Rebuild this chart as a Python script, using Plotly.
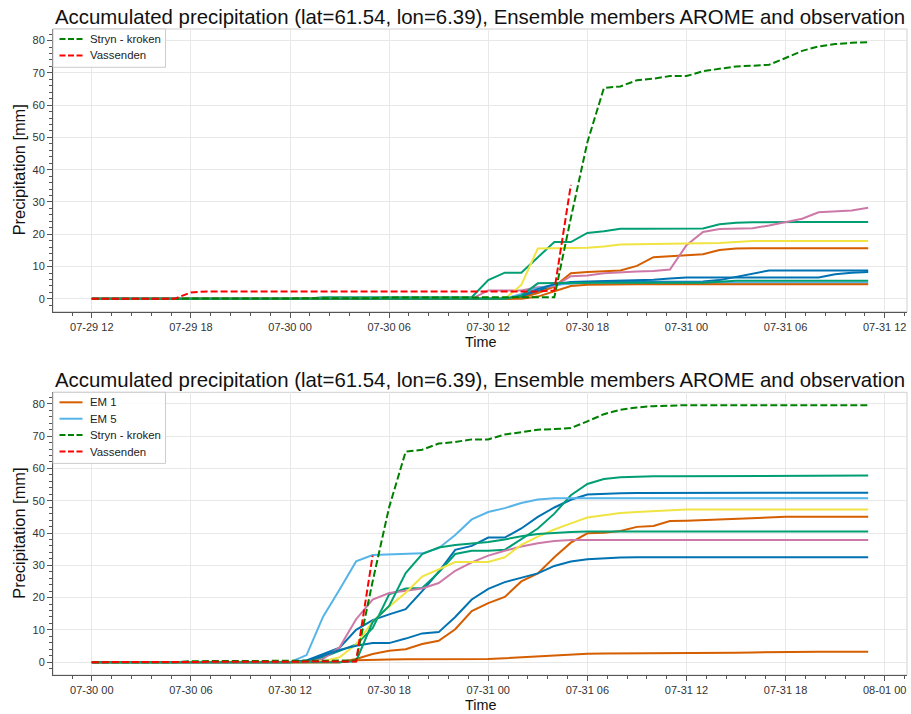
import pandas as pd
import plotly.graph_objects as go

TITLE = "Accumulated precipitation (lat=61.54, lon=6.39), Ensemble members AROME and observation"

# ---------------------------------------------------------------------------
# Valid times (hourly). Upper panel: run from 07-29 12, lower panel: 07-30 00
# ---------------------------------------------------------------------------
top_times = pd.date_range("2023-07-29 12:00", periods=48, freq="h")
bot_times = pd.date_range("2023-07-30 00:00", periods=48, freq="h")

# ----------------------------- upper panel --------------------------------
top_em0 = [0, 0, 0, 0, 0, 0, 0, 0, 0, 0, 0, 0,
           0, 0, 0, 0, 0, 0, 0, 0, 0, 0, 0, 0,
           0, 0, 0.5, 2.3, 4.3, 5.0, 5.2, 5.3, 5.3, 5.3, 5.4, 5.4,
           5.4, 5.4, 5.8, 6.8, 8.0, 8.8, 8.8, 8.8, 8.8, 8.8, 8.8, 8.8]
top_em1 = [0, 0, 0, 0, 0, 0, 0, 0, 0, 0, 0, 0,
           0, 0, 0, 0, 0, 0, 0, 0, 0, 0, 0, 0,
           0, 0, 0.3, 1.8, 3.8, 7.9, 8.3, 8.6, 8.8, 10.2, 12.9, 13.2,
           13.4, 13.8, 15.1, 15.6, 15.7, 15.7, 15.7, 15.7, 15.7, 15.7, 15.7, 15.7]
top_em2 = [0, 0, 0, 0, 0, 0, 0, 0, 0, 0, 0, 0,
           0, 0, 0.5, 0.5, 0.5, 0.5, 0.5, 0.5, 0.5, 0.5, 0.5, 0.5,
           5.8, 8.1, 8.1, 13.0, 17.6, 17.6, 20.4, 20.9, 21.7, 21.7, 21.7, 21.7,
           21.7, 21.8, 23.1, 23.6, 23.7, 23.8, 23.8, 23.8, 23.8, 23.8, 23.8, 23.8]
top_em3 = [0, 0, 0, 0, 0, 0, 0, 0, 0, 0, 0, 0,
           0, 0, 0, 0, 0, 0, 0, 0, 0, 0, 0, 0,
           2.6, 2.6, 2.6, 3.6, 3.9, 7.0, 7.2, 7.9, 8.3, 8.5, 8.6, 9.1,
           16.6, 20.7, 21.6, 21.7, 21.9, 22.7, 23.7, 24.8, 26.8, 27.1, 27.4, 28.2]
top_em4 = [0, 0, 0, 0, 0, 0, 0, 0, 0, 0, 0, 0,
           0, 0, 0, 0, 0, 0, 0, 0, 0, 0, 0, 0,
           0, 0, 4.3, 15.6, 15.7, 15.8, 15.8, 16.2, 16.8, 16.9, 17.0, 17.0,
           17.0, 17.1, 17.3, 17.6, 17.9, 17.9, 17.9, 17.9, 17.9, 17.9, 17.9, 17.9]
top_em5 = [0, 0, 0, 0, 0, 0, 0, 0, 0, 0, 0, 0,
           0, 0, 0, 0, 0, 0, 0, 0, 0, 0, 0, 0,
           0, 0, 1.5, 3.3, 4.4, 4.8, 5.0, 5.0, 5.0, 5.0, 5.0, 5.0,
           5.0, 5.0, 5.0, 5.0, 5.0, 5.0, 5.0, 5.0, 5.0, 5.0, 5.0, 5.0]
top_em6 = [0, 0, 0, 0, 0, 0, 0, 0, 0, 0, 0, 0,
           0, 0, 0, 0, 0, 0, 0, 0, 0, 0, 0, 0,
           0, 0, 0.8, 3.0, 4.5, 5.2, 5.4, 5.5, 5.6, 5.7, 5.9, 6.3,
           6.6, 6.6, 6.6, 6.6, 6.6, 6.6, 6.6, 6.6, 6.6, 7.6, 8.1, 8.3]
top_em7 = [0, 0, 0, 0, 0, 0, 0, 0, 0, 0, 0, 0,
           0, 0, 0, 0, 0, 0, 0, 0, 0, 0, 0, 0,
           0, 0, 0, 0.7, 2.4, 4.0, 4.4, 4.5, 4.5, 4.5, 4.5, 4.5,
           4.5, 4.5, 4.5, 4.5, 4.5, 4.5, 4.5, 4.5, 4.5, 4.5, 4.5, 4.5]
top_em8 = [0, 0, 0, 0, 0, 0, 0, 0, 0, 0, 0, 0,
           0, 0, 0, 0, 0, 0, 0, 0, 0, 0, 0, 0,
           0, 0, 1.0, 4.8, 4.9, 5.0, 5.0, 5.0, 5.0, 5.0, 5.0, 5.0,
           5.0, 5.0, 5.3, 5.6, 5.6, 5.6, 5.6, 5.6, 5.6, 5.6, 5.6, 5.6]

# observations, upper panel
top_stryn = [0, 0, 0, 0, 0, 0, 0, 0, 0, 0, 0, 0,
             0, 0, 0.2, 0.2, 0.2, 0.2, 0.4, 0.4, 0.4, 0.4, 0.4, 0.4,
             0.4, 0.4, 0.4, 0.4, 0.5, 25.0, 48.5, 65.3, 65.8, 67.7, 68.2, 69.0,
             69.0, 70.5, 71.3, 72.0, 72.2, 72.5, 74.6, 76.8, 78.2, 78.9, 79.3, 79.5]
top_vassenden = [0, 0, 0, 0, 0, 0, 2.0, 2.3, 2.3, 2.3, 2.3, 2.3,
                 2.3, 2.3, 2.3, 2.3, 2.3, 2.3, 2.3, 2.3, 2.3, 2.3, 2.3, 2.3,
                 2.3, 2.3, 2.3, 2.3, 2.6, 35.3]

# ----------------------------- lower panel --------------------------------
bot_em0 = [0, 0, 0, 0, 0, 0, 0, 0, 0, 0, 0, 0,
           0, 0.5, 2.5, 4.5, 10.0, 13.0, 14.8, 16.4, 22.0, 28.0, 34.8, 36.0,
           38.6, 38.6, 41.4, 45.0, 47.9, 50.3, 51.9, 52.2, 52.3, 52.4, 52.4, 52.4,
           52.4, 52.4, 52.4, 52.5, 52.5, 52.5, 52.5, 52.5, 52.5, 52.5, 52.5, 52.5]
bot_em1 = [0, 0, 0, 0, 0, 0, 0, 0, 0, 0, 0, 0,
           0, 0, 0, 0, 1.0, 2.5, 3.5, 4.0, 5.6, 6.6, 10.2, 15.8,
           18.3, 20.2, 25.0, 27.5, 32.5, 37.0, 39.9, 40.1, 40.6, 41.9, 42.2, 43.7,
           43.8, 44.0, 44.2, 44.5, 44.8, 45.0, 45.0, 45.0, 45.0, 45.0, 45.0, 45.0]
bot_em2 = [0, 0, 0, 0, 0, 0, 0, 0, 0, 0, 0, 0,
           0, 0.3, 1.5, 3.5, 5.5, 10.5, 21.0, 22.8, 23.0, 27.8, 33.5, 34.5,
           34.5, 34.8, 38.1, 41.4, 46.0, 51.7, 55.2, 56.7, 57.3, 57.5, 57.6, 57.6,
           57.6, 57.6, 57.6, 57.6, 57.8, 57.8, 57.8, 57.8, 57.8, 57.8, 57.8, 57.8]
bot_em3 = [0, 0, 0, 0, 0, 0, 0, 0, 0, 0, 0, 0,
           0, 0, 1.0, 4.6, 13.3, 19.4, 21.4, 22.2, 22.8, 24.5, 28.3, 30.9,
           33.0, 34.5, 35.8, 36.8, 37.5, 37.8, 37.8, 37.8, 37.8, 37.8, 37.8, 37.8,
           37.8, 37.8, 37.8, 37.8, 37.8, 37.8, 37.8, 37.8, 37.8, 37.8, 37.8, 37.8]
bot_em4 = [0, 0, 0, 0, 0, 0, 0, 0, 0, 0, 0, 0,
           0, 0, 0.3, 1.5, 5.5, 12.5, 17.2, 21.5, 26.5, 28.8, 31.0, 31.0,
           31.0, 32.5, 36.3, 38.9, 41.1, 43.0, 44.8, 45.5, 46.2, 46.5, 46.8, 47.0,
           47.3, 47.3, 47.3, 47.3, 47.3, 47.3, 47.3, 47.3, 47.3, 47.3, 47.3, 47.3]
bot_em5 = [0, 0, 0, 0, 0, 0, 0, 0, 0, 0, 0, 0,
           0, 2.2, 14.1, 22.5, 31.2, 33.2, 33.3, 33.5, 33.7, 35.3, 39.4, 44.2,
           46.5, 47.7, 49.3, 50.4, 50.8, 50.8, 50.8, 50.8, 50.8, 50.8, 50.8, 50.8,
           50.8, 50.8, 50.8, 50.8, 50.8, 50.8, 50.8, 50.8, 50.8, 50.8, 50.8, 50.8]
bot_em6 = [0, 0, 0, 0, 0, 0, 0, 0, 0, 0, 0, 0,
           0, 0.5, 2.0, 3.8, 5.1, 5.9, 5.9, 7.3, 8.9, 9.3, 14.0, 19.4,
           22.7, 24.8, 26.2, 27.5, 29.8, 31.2, 31.9, 32.2, 32.4, 32.5, 32.5, 32.5,
           32.5, 32.5, 32.5, 32.5, 32.5, 32.5, 32.5, 32.5, 32.5, 32.5, 32.5, 32.5]
bot_em7 = [0, 0, 0, 0, 0, 0, 0, 0, 0, 0, 0, 0,
           0, 0, 0, 0, 0.6, 0.8, 0.8, 0.9, 0.9, 1.0, 1.0, 1.0,
           1.0, 1.2, 1.5, 1.7, 2.0, 2.2, 2.6, 2.7, 2.7, 2.7, 2.7, 2.7,
           2.7, 2.7, 2.7, 2.9, 3.0, 3.1, 3.2, 3.2, 3.2, 3.2, 3.2, 3.2]
bot_em8 = [0, 0, 0, 0, 0, 0, 0, 0, 0, 0, 0, 0,
           0, 0, 0, 0, 0.3, 12.4, 17.4, 27.6, 33.5, 35.5, 36.3, 36.8,
           37.2, 38.0, 39.0, 39.7, 40.1, 40.3, 40.5, 40.5, 40.5, 40.5, 40.5, 40.5,
           40.5, 40.5, 40.5, 40.5, 40.5, 40.5, 40.5, 40.5, 40.5, 40.5, 40.5, 40.5]

# observations, lower panel
bot_stryn = [0, 0, 0, 0, 0, 0, 0.3, 0.3, 0.3, 0.3, 0.3, 0.3,
             0.3, 0.3, 0.3, 0.3, 0.5, 25.0, 48.0, 65.2, 65.8, 67.7, 68.2, 69.0,
             69.0, 70.5, 71.3, 72.0, 72.2, 72.5, 74.6, 76.8, 78.2, 78.9, 79.3, 79.5,
             79.6, 79.6, 79.6, 79.6, 79.6, 79.6, 79.6, 79.6, 79.6, 79.6, 79.6, 79.6]
bot_vassenden = [0, 0, 0, 0, 0, 0, 0, 0, 0, 0, 0, 0,
                 0, 0, 0, 0, 0.2, 33.0]

# member colours (colour-blind palette cycle)
member_colors = ["#0072B2", "#D55E00", "#009E73", "#CC79A7", "#F0E442",
                 "#56B4E9", "#0072B2", "#D55E00", "#009E73"]
top_members = [top_em0, top_em1, top_em2, top_em3, top_em4,
               top_em5, top_em6, top_em7, top_em8]
bot_members = [bot_em0, bot_em1, bot_em2, bot_em3, bot_em4,
               bot_em5, bot_em6, bot_em7, bot_em8]

OBS_GREEN = "#008000"
OBS_RED = "#FF0000"
FONT = "Liberation Sans, Arial, sans-serif"
OBS_DASH = "7px,3px"

fig = go.Figure()

# upper panel
for i, (vals, col) in enumerate(zip(top_members, member_colors)):
    fig.add_trace(go.Scatter(x=top_times, y=vals, mode="lines",
                             line=dict(color=col, width=2), name=f"EM {i}",
                             xaxis="x", yaxis="y"))
fig.add_trace(go.Scatter(x=top_times, y=top_stryn, mode="lines",
                         line=dict(color=OBS_GREEN, width=2, dash=OBS_DASH),
                         name="Stryn - kroken", xaxis="x", yaxis="y"))
fig.add_trace(go.Scatter(x=top_times[:len(top_vassenden)], y=top_vassenden,
                         mode="lines",
                         line=dict(color=OBS_RED, width=2, dash=OBS_DASH),
                         name="Vassenden", xaxis="x", yaxis="y"))

# lower panel
for i, (vals, col) in enumerate(zip(bot_members, member_colors)):
    fig.add_trace(go.Scatter(x=bot_times, y=vals, mode="lines",
                             line=dict(color=col, width=2), name=f"EM {i}",
                             xaxis="x2", yaxis="y2"))
fig.add_trace(go.Scatter(x=bot_times, y=bot_stryn, mode="lines",
                         line=dict(color=OBS_GREEN, width=2, dash=OBS_DASH),
                         name="Stryn - kroken", xaxis="x2", yaxis="y2"))
fig.add_trace(go.Scatter(x=bot_times[:len(bot_vassenden)], y=bot_vassenden,
                         mode="lines",
                         line=dict(color=OBS_RED, width=2, dash=OBS_DASH),
                         name="Vassenden", xaxis="x2", yaxis="y2"))

MARGIN = dict(l=53, r=4, t=29, b=39)
WIDTH, HEIGHT = 911, 714
PLOT_W = WIDTH - MARGIN["l"] - MARGIN["r"]
PLOT_H = HEIGHT - MARGIN["t"] - MARGIN["b"]
TOP_DOM = [0.5624, 1.0]
BOT_DOM = [0.0, 0.4376]
PANEL_H = (TOP_DOM[1] - TOP_DOM[0]) * PLOT_H
SIX_H = 6 * 3600 * 1000
MINOR_X = int(1.2 * 3600 * 1000)


def xaxis_style(rng, tick0, anchor):
    return dict(
        type="date", range=rng, anchor=anchor, domain=[0, 1],
        tick0=tick0, dtick=SIX_H, tickformat="%m-%d %H",
        ticks="outside", ticklen=5, tickwidth=1, tickcolor="#555555",
        showline=True, linecolor="#555555", linewidth=1, mirror=False,
        showgrid=True, gridcolor="#e8e8e8", gridwidth=1, zeroline=False,
        tickfont=dict(family=FONT, size=11, color="#333333"),
        minor=dict(ticks="outside", ticklen=3, tickwidth=1, tickcolor="#555555",
                   tick0=tick0, dtick=MINOR_X, showgrid=False),
    )


def yaxis_style(dom, anchor):
    return dict(
        range=[-3.98, 83.58], domain=dom, anchor=anchor,
        tick0=0, dtick=10, ticks="outside", ticklen=5, tickwidth=1,
        tickcolor="#555555", showline=True, linecolor="#555555", linewidth=1,
        mirror=False, showgrid=True, gridcolor="#e8e8e8", gridwidth=1,
        zeroline=False, tickfont=dict(family=FONT, size=11, color="#333333"),
        minor=dict(ticks="outside", ticklen=3, tickwidth=1, tickcolor="#555555",
                   tick0=0, dtick=2, showgrid=False),
    )


fig.update_layout(
    width=WIDTH, height=HEIGHT, margin=MARGIN, showlegend=False,
    paper_bgcolor="white", plot_bgcolor="white",
    font=dict(family=FONT, color="#222222"),
    xaxis=xaxis_style(["2023-07-29 09:39", "2023-07-31 13:21"],
                      "2023-07-29 12:00", "y"),
    yaxis=yaxis_style(TOP_DOM, "x"),
    xaxis2=xaxis_style(["2023-07-29 21:39", "2023-08-01 01:21"],
                       "2023-07-30 00:00", "y2"),
    yaxis2=yaxis_style(BOT_DOM, "x2"),
)

# light frame around each panel (top/right edges)
for xr, yr in (("x domain", "y domain"), ("x2 domain", "y2 domain")):
    fig.add_shape(type="rect", xref=xr, yref=yr, x0=0, x1=1, y0=0, y1=1,
                  line=dict(color="#d0d0d0", width=1), layer="below")


def fx(px):
    """horizontal pixel offset from the panel's left edge -> domain fraction"""
    return px / PLOT_W


def fy(px):
    """vertical pixel offset from the panel's top edge -> domain fraction"""
    return 1 - px / PANEL_H


def draw_legend(xr, yr, entries):
    """Compact upper-left legend box with line samples and labels."""
    row_h = 16.4
    box_h = 4 + row_h * len(entries) + 1.5
    fig.add_shape(type="rect", xref=xr, yref=yr, x0=fx(0), x1=fx(112.5),
                  y0=fy(box_h), y1=fy(0), layer="above",
                  fillcolor="rgba(255,255,255,0.85)",
                  line=dict(color="#cccccc", width=1))
    for k, (label, color, dash) in enumerate(entries):
        yc = 10 + row_h * k
        fig.add_shape(type="line", xref=xr, yref=yr, x0=fx(6.5), x1=fx(29.5),
                      y0=fy(yc), y1=fy(yc), layer="above",
                      line=dict(color=color, width=2, dash=dash))
        fig.add_annotation(text=label, xref=xr, yref=yr, x=fx(34.5), y=fy(yc),
                           xanchor="left", yanchor="middle", showarrow=False,
                           font=dict(family=FONT, size=11.4, color="#222222"))


draw_legend("x domain", "y domain",
            [("Stryn - kroken", OBS_GREEN, "6px,2.5px"),
             ("Vassenden", OBS_RED, "6px,2.5px")])
draw_legend("x2 domain", "y2 domain",
            [("EM 1", member_colors[1], "solid"),
             ("EM 5", member_colors[5], "solid"),
             ("Stryn - kroken", OBS_GREEN, "6px,2.5px"),
             ("Vassenden", OBS_RED, "6px,2.5px")])

# titles and axis labels
for dom in (TOP_DOM, BOT_DOM):
    mid = (dom[0] + dom[1]) / 2
    fig.add_annotation(text=TITLE, xref="paper", yref="paper", x=0.5, y=dom[1],
                       xanchor="center", yanchor="bottom", yshift=-1,
                       showarrow=False,
                       font=dict(family=FONT, size=20.4, color="#111111"))
    fig.add_annotation(text="Precipitation [mm]", xref="paper", yref="paper",
                       x=0, y=mid, xshift=-34, textangle=-90,
                       xanchor="center", yanchor="middle", showarrow=False,
                       font=dict(family=FONT, size=16.4, color="#111111"))
    fig.add_annotation(text="Time", xref="paper", yref="paper",
                       x=0.5, y=dom[0], yshift=-30,
                       xanchor="center", yanchor="middle", showarrow=False,
                       font=dict(family=FONT, size=14.4, color="#111111"))

fig.write_html("out.html")
